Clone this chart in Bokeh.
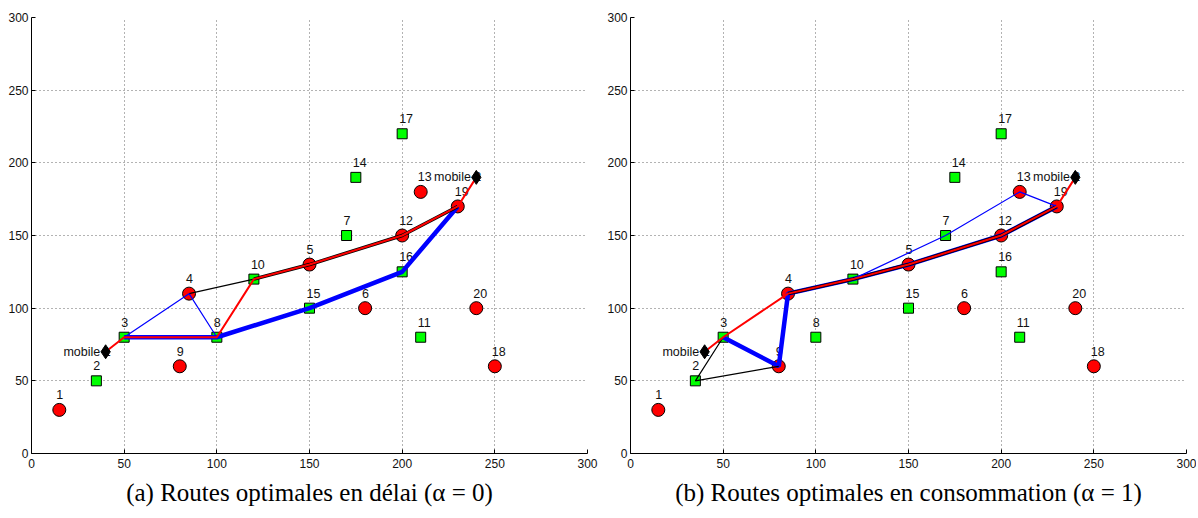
from bokeh.plotting import figure
from bokeh.models import Range1d, Title, ColumnDataSource, FixedTicker
from bokeh.layouts import row
from bokeh.embed import file_html
from bokeh.resources import INLINE
from bokeh.core.properties import value

# ---- data -------------------------------------------------------------
node_ids = list(range(1, 21))
node_x = [15, 35, 50, 85, 150, 180, 170, 100, 80, 120, 210, 200, 210, 175, 150, 200, 200, 250, 230, 240]
node_y = [30, 50, 80, 110, 130, 100, 150, 80, 60, 120, 80, 150, 180, 190, 100, 125, 220, 60, 170, 100]
node_kind = ["c", "s", "s", "c", "c", "c", "s", "s", "c", "s", "s", "c", "c", "s", "s", "s", "s", "c", "c", "c"]

mobile_keys = ["m1", "m2"]
mobile_names = ["mobile 1", "mobile 2"]
mobile_x = [40, 240]
mobile_y = [70, 190]

axis_ticks = [0, 50, 100, 150, 200, 250, 300]

captions = ["(a) Routes optimales en délai (α = 0)",
            "(b) Routes optimales en consommation (α = 1)"]

# routes, panel (a)
route_a_blue_thick = [3, 8, 15, 16, 19]
route_a_blue_thin = [3, 4, 8]
route_a_black_thin = [4, 10]
route_a_black_thick = [10, 5, 12, 19]
route_a_red = ["m1", 3, 8, 10, 5, 12, 19, "m2"]

# routes, panel (b)
route_b_blue_thick = [3, 9, 4, 10, 5, 12, 19]
route_b_blue_thin = [10, 7, 13, 19]
route_b_black_thin = [3, 2, 9]
route_b_black_thick = [4, 10, 5, 12, 19]
route_b_red = ["m1", 3, 4, 10, 5, 12, 19, "m2"]

# ---- helpers ----------------------------------------------------------
pos = {i: (x, y) for i, x, y in zip(node_ids, node_x, node_y)}
for k, x, y in zip(mobile_keys, mobile_x, mobile_y):
    pos[k] = (x, y)


def route_xy(route):
    return [pos[k][0] for k in route], [pos[k][1] for k in route]


SANS = "Liberation Sans"


def make_panel(caption, blue_thick, blue_thin, black_thin, black_thick, red, border_left, border_right):
    p = figure(width=598, height=516, x_range=Range1d(0, 300), y_range=Range1d(0, 300),
               output_backend="svg", toolbar_location=None,
               min_border_left=border_left, min_border_right=border_right,
               min_border_top=17, min_border_bottom=63)
    p.outline_line_color = None
    p.background_fill_color = "white"
    p.border_fill_color = "white"

    for ax in (p.xaxis[0], p.yaxis[0]):
        ax.ticker = FixedTicker(ticks=axis_ticks)
        ax.axis_line_color = "black"
        ax.major_tick_line_color = "black"
        ax.major_tick_in = 4
        ax.major_tick_out = 0
        ax.minor_tick_line_color = None
        ax.major_label_text_font = SANS
        ax.major_label_text_font_size = "12px"
        ax.major_label_text_color = "#111111"
    p.xaxis[0].major_label_standoff = 5
    p.yaxis[0].major_label_standoff = 3

    for g in (p.xgrid[0], p.ygrid[0]):
        g.ticker = FixedTicker(ticks=axis_ticks)
        g.grid_line_color = "#666666"
        g.grid_line_dash = "1 3"
        g.grid_line_width = 1

    # node labels
    src_lab = ColumnDataSource(dict(x=node_x, y=node_y, t=[str(i) for i in node_ids]))
    p.text("x", "y", text="t", source=src_lab, text_font=value(SANS), text_font_size="12.5px",
           text_align="left", text_baseline="middle", x_offset=-3, y_offset=-15, text_color="#111111")
    src_mob = ColumnDataSource(dict(x=mobile_x, y=mobile_y, t=mobile_names))
    p.text("x", "y", text="t", source=src_mob, text_font=value(SANS), text_font_size="12.5px",
           text_align="right", text_baseline="middle", x_offset=5, y_offset=0, text_color="#111111")

    # nodes
    cx = [x for x, k in zip(node_x, node_kind) if k == "c"]
    cy = [y for y, k in zip(node_y, node_kind) if k == "c"]
    sx = [x for x, k in zip(node_x, node_kind) if k == "s"]
    sy = [y for y, k in zip(node_y, node_kind) if k == "s"]
    p.scatter(cx, cy, marker="circle", size=13, fill_color="#ff0000", line_color="black", line_width=1)
    p.scatter(sx, sy, marker="square", size=10, fill_color="#00ff00", line_color="black", line_width=1)

    # routes
    def draw(route, color, width):
        if route:
            xs, ys = route_xy(route)
            p.line(xs, ys, line_color=color, line_width=width)

    draw(blue_thick, "#0000ff", 4.5)
    draw(black_thick, "#000000", 3.5)
    draw(black_thin, "#000000", 1.2)
    draw(blue_thin, "#0000ff", 1.2)
    draw(red, "#ff0000", 2)

    # mobiles
    p.scatter(mobile_x, mobile_y, marker="diamond", size=14, fill_color="black", line_color="black")

    p.add_layout(Title(text=caption, align="center", text_font="Liberation Serif",
                       text_font_size="25px", text_font_style="normal", text_color="black",
                       standoff=12), "below")
    return p


pa = make_panel(captions[0], route_a_blue_thick, route_a_blue_thin, route_a_black_thin,
                route_a_black_thick, route_a_red, 31, 11)
pb = make_panel(captions[1], route_b_blue_thick, route_b_blue_thin, route_b_black_thin,
                route_b_black_thick, route_b_red, 32, 10)

layout = row(pa, pb)
open("out.html", "w").write(file_html(layout, INLINE))
